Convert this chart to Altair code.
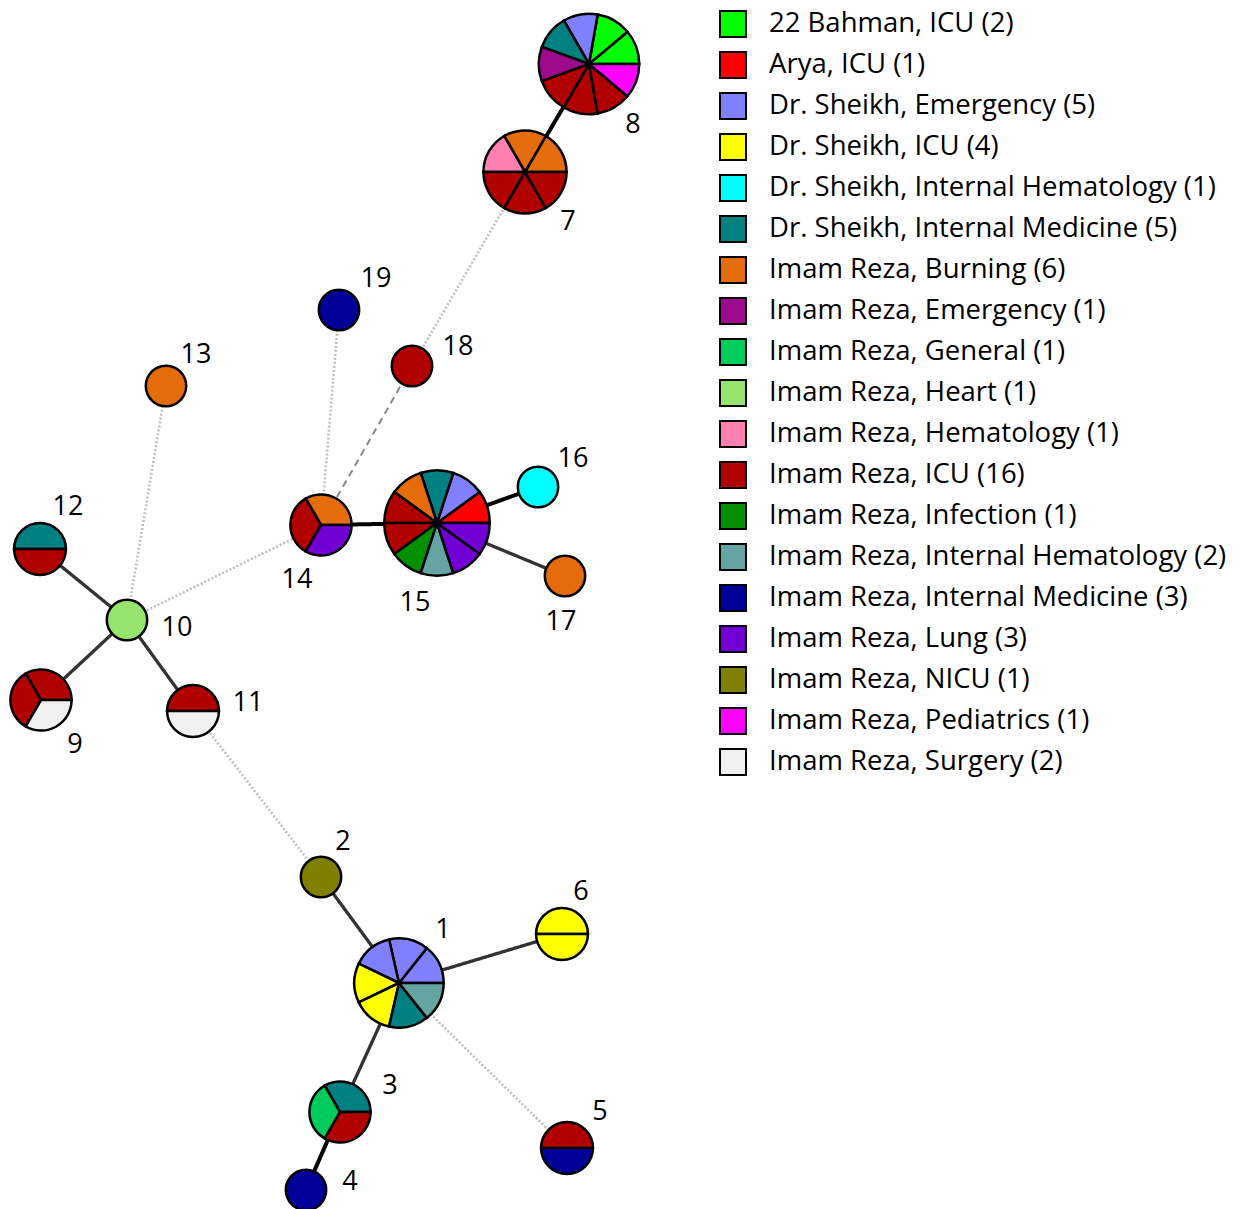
import altair as alt
import pandas as pd

# ---- categories (legend order) and colours ----
categories = [
    "22 Bahman, ICU", "Arya, ICU", "Dr. Sheikh, Emergency", "Dr. Sheikh, ICU",
    "Dr. Sheikh, Internal Hematology", "Dr. Sheikh, Internal Medicine",
    "Imam Reza, Burning", "Imam Reza, Emergency", "Imam Reza, General",
    "Imam Reza, Heart", "Imam Reza, Hematology", "Imam Reza, ICU",
    "Imam Reza, Infection", "Imam Reza, Internal Hematology",
    "Imam Reza, Internal Medicine", "Imam Reza, Lung", "Imam Reza, NICU",
    "Imam Reza, Pediatrics", "Imam Reza, Surgery",
]
colors = [
    "#00ff00", "#ff0000", "#8080ff", "#ffff00", "#00ffff", "#008080",
    "#e46c0a", "#9e0a8e", "#00cc5c", "#96e46e", "#ff80b0", "#b00000",
    "#009000", "#66a3a3", "#000099", "#7200d4", "#808000", "#ff00ff", "#f0f0f0",
]

# ---- nodes (layout coordinates) ----
node_id = list(range(1, 20))
node_x = [399, 321, 340, 306, 567, 562, 525, 589, 41, 127, 193, 40, 166, 321, 437, 538, 565, 412, 339]
node_y = [983, 877, 1112, 1190, 1148, 934, 172, 64, 700, 620, 711, 549, 386, 525, 523, 487, 576, 366, 310]

# isolates in each node (category indices, counter-clockwise from east)
node_slices = [
    [2, 2, 2, 3, 3, 5, 13],              # 1
    [16],                                # 2
    [5, 8, 11],                          # 3
    [14],                                # 4
    [11, 14],                            # 5
    [3, 3],                              # 6
    [6, 6, 10, 11, 11, 11],              # 7
    [0, 0, 2, 5, 7, 11, 11, 11, 17],     # 8
    [11, 11, 18],                        # 9
    [9],                                 # 10
    [11, 18],                            # 11
    [5, 11],                             # 12
    [6],                                 # 13
    [6, 11, 15],                         # 14
    [1, 2, 5, 6, 11, 11, 12, 13, 15, 15],  # 15
    [4],                                 # 16
    [6],                                 # 17
    [11],                                # 18
    [14],                                # 19
]

# node label positions
label_x = [443, 343, 390, 350, 600, 581, 568, 633, 75, 177, 248, 68, 196, 297, 415, 573, 561, 458, 376]
label_y = [930, 842, 1086, 1182, 1112, 892, 222, 125, 745, 628, 703, 507, 355, 580, 603, 459, 622, 347, 279]

# ---- edges ----
edge_src = [7, 7, 18, 19, 14, 15, 15, 14, 13, 12, 9, 11, 11, 2, 1, 1, 3, 1]
edge_dst = [8, 18, 14, 14, 15, 16, 17, 10, 10, 10, 10, 10, 2, 1, 6, 3, 4, 5]
edge_style = ["thick", "dotted", "dashed", "dotted", "thick", "thick", "thin", "dotted",
              "dotted", "thin", "thin", "thin", "dotted", "thin", "thin", "thin", "thick", "dotted"]

# ---- build tables ----
counts = {c: 0 for c in categories}
for sl in node_slices:
    for ci in sl:
        counts[categories[ci]] += 1
cat_labels = [f"{c} ({counts[c]})" for c in categories]

rows = []
k = 0
for nid, nx, ny, sl in zip(node_id, node_x, node_y, node_slices):
    for ci in sl:
        rows.append({"node": nid, "x": nx, "y": ny, "k": k, "group": cat_labels[ci]})
        k += 1
slices = pd.DataFrame(rows)

pos = {n: (x, y) for n, x, y in zip(node_id, node_x, node_y)}
edges = pd.DataFrame({
    "x": [pos[s][0] for s in edge_src], "y": [pos[s][1] for s in edge_src],
    "x2": [pos[d][0] for d in edge_dst], "y2": [pos[d][1] for d in edge_dst],
    "style": edge_style,
})
labels = pd.DataFrame({"node": [str(n) for n in node_id], "x": label_x, "y": label_y})

xs = alt.Scale(domain=[8, 1236], nice=False, zero=False)
ys = alt.Scale(domain=[8, 1209], nice=False, zero=False, reverse=True)

styles = ["thick", "thin", "dotted", "dashed"]
edge_layer = alt.Chart(edges).mark_rule().encode(
    x=alt.X("x:Q", scale=xs, axis=None),
    y=alt.Y("y:Q", scale=ys, axis=None),
    x2="x2:Q",
    y2="y2:Q",
    color=alt.Color("style:N", scale=alt.Scale(domain=styles, range=["#000000", "#333333", "#c0c0c0", "#888888"]), legend=None),
    strokeWidth=alt.StrokeWidth("style:N", scale=alt.Scale(domain=styles, range=[4, 2, 2, 2.5]), legend=None),
    strokeDash=alt.StrokeDash("style:N", scale=alt.Scale(domain=styles, range=[[1, 0], [1, 0], [2, 2], [7, 5]]), legend=None),
)

arc_layer = alt.Chart(slices).transform_window(
    i="row_number()", groupby=["node"], sort=[alt.SortField("k")]
).transform_joinaggregate(
    n="count()", groupby=["node"]
).transform_calculate(
    t1="PI/2 - 2*PI*datum.i/datum.n",
    t2="PI/2 - 2*PI*(datum.i-1)/datum.n",
    r="sqrt(144 + 264*datum.n)",
).mark_arc(stroke="black", strokeWidth=2.5).encode(
    x=alt.X("x:Q", scale=xs, axis=None),
    y=alt.Y("y:Q", scale=ys, axis=None),
    theta=alt.Theta("t1:Q", scale=None, stack=None),
    theta2="t2:Q",
    radius=alt.Radius("r:Q", scale=None),
    color=alt.Color(
        "group:N",
        scale=alt.Scale(domain=cat_labels, range=colors),
        legend=alt.Legend(
            title=None, orient="none", legendX=711, legendY=2, padding=0,
            symbolType="square", symbolSize=676, symbolStrokeColor="black",
            symbolStrokeWidth=2, symbolOpacity=1,
            labelFont="Open Sans", labelFontSize=27.5, labelColor="black",
            labelLimit=1000, labelOffset=22, rowPadding=7,
        ),
    ),
)

text_layer = alt.Chart(labels).mark_text(
    font="Open Sans", fontSize=27, color="black", align="center", baseline="middle"
).encode(
    x=alt.X("x:Q", scale=xs, axis=None),
    y=alt.Y("y:Q", scale=ys, axis=None),
    text="node:N",
)

chart = alt.layer(edge_layer, arc_layer, text_layer).resolve_scale(
    color="independent", strokeWidth="independent", strokeDash="independent"
).properties(
    width=1228, height=1201, padding=0,
    autosize=alt.AutoSizeParams(type="none"),
    background="white",
).configure_view(strokeWidth=0)

chart.save("out.html", embed_options={"renderer": "svg", "actions": False})
